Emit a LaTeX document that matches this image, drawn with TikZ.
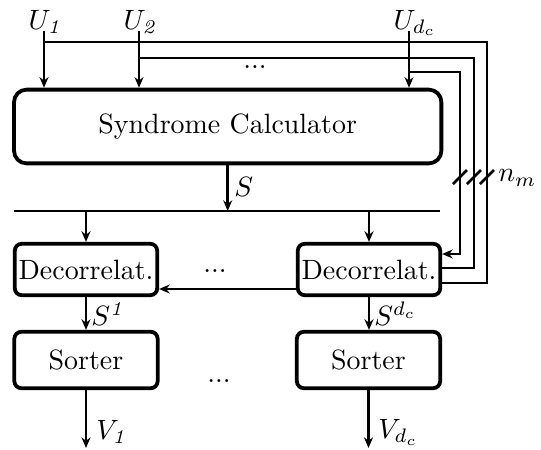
\documentclass[tikz,border=0pt]{standalone}
\usepackage{amsmath,amssymb}
\usepackage{tikz}
\usetikzlibrary{arrows.meta,positioning,calc}
\tikzset{
  bigbox/.style = {rectangle, rounded corners=4.5pt, draw, line width=1.35pt, minimum width=153pt, minimum height=26.4pt, align=center},
  decbox/.style = {rectangle, rounded corners=2.5pt, draw, line width=1.35pt, minimum width=51pt, minimum height=18.4pt, inner sep=0pt},
  sortbox/.style = {rectangle, rounded corners=2.5pt, draw, line width=1.35pt, minimum width=51.3pt, minimum height=20.2pt, inner sep=0pt},
  myline/.style = {line width=0.95pt},
  mythin/.style = {line width=0.45pt},
  myarrow/.style = {-{Stealth[length=3.8pt,width=3.2pt]}, line width=0.95pt},
  mylabel/.style = {anchor=west, inner sep=1pt},
}

\begin{document}
\begin{tikzpicture}[x=0.358pt,y=-0.358pt]
\useasboundingbox (0,0) rectangle (541,450);
% blocks
\node[bigbox] (syn) at (227.7,126.5) {Syndrome Calculator};
\node[decbox] (dec1) at (86,269.5) {Decorrelat.};
\node[decbox] (dec2) at (369,269.5) {Decorrelat.};
\node[sortbox] (sort1) at (86,360) {Sorter};
\node[sortbox] (sort2) at (368.5,360) {Sorter};
% inputs
\coordinate (u1) at (44,31);
\coordinate (u2) at (139,31);
\coordinate (ud) at (409,31);
\node[anchor=base, inner sep=1pt] (lu1) at (46,29) {$U_{\mathit{1}}$};
\node[anchor=base, inner sep=1pt] (lu2) at (141,29) {$U_{\mathit{2}}$};
\node[anchor=base, inner sep=1pt] (lud) at (415,29) {$U_{d_c}$};
\draw[myarrow] (u1) -- (u1 |- syn.north);
\draw[myarrow] (u2) -- (u2 |- syn.north);
\draw[myarrow] (ud) -- (ud |- syn.north);
\node (dots1) at (255,67) {...};
% bypass to the last decorrelator
\coordinate (b1) at (487,42);
\coordinate (b2) at (474,58);
\coordinate (b3) at (460,72);
\draw[myline] (u1 |- b1) -- (b1) |- ($(dec2.east)+(0,13.5)$);
\draw[myline] (u2 |- b2) -- (b2) |- ($(dec2.east)+(0,-1.5)$);
\draw[myarrow] (ud |- b3) -- (b3) |- ($(dec2.east)+(0,-15.5)$);
\foreach \x in {460,474,487}
  \draw[myline] (\x-7,184) -- (\x+7,170);
\node[mylabel] (nm) at (495,178) {$n_m$};
% syndrome bus
\coordinate (sepl) at (14.5,211);
\coordinate (sepr) at (440,211);
\draw[mythin] (sepl) -- (sepr);
\draw[myarrow] (syn.south) -- (syn.south |- sepl);
\node[mylabel] (ls) at (231,187) {$S$};
\draw[myarrow] (dec1.north |- sepl) -- (dec1.north);
\draw[myarrow] (dec2.north |- sepl) -- (dec2.north);
% decorrelators
\draw[myarrow] ($(dec2.west)+(0,19.5)$) -- ($(dec1.east)+(0,19.5)$);
\node (dots2) at (215,271) {...};
\draw[myarrow] (dec1.south) -- (dec1.south |- sort1.north);
\draw[myarrow] (dec2.south) -- (dec2.south |- sort2.north);
\node[mylabel] (ls1) at (88,314) {$S^{\mathit{1}}$};
\node[mylabel] (lsd) at (371,314) {$S^{d_c}$};
% sorters
\node (dots3) at (219,381) {...};
\coordinate (v1) at (86,448);
\coordinate (vd) at (368.5,448);
\draw[myarrow] (sort1.south) -- (v1);
\draw[myarrow] (sort2.south) -- (vd);
\node[mylabel] (lv1) at (93,432) {$V_{\mathit{1}}$};
\node[mylabel] (lvd) at (375,432) {$V_{d_c}$};
\end{tikzpicture}
\end{document}
